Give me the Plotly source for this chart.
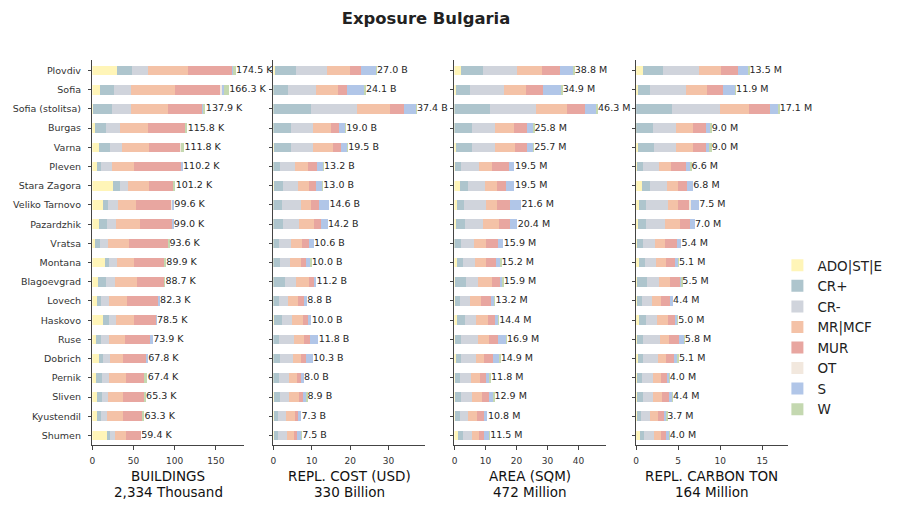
import plotly.graph_objects as go

regions = ["Plovdiv", "Sofia", "Sofia (stolitsa)", "Burgas", "Varna", "Pleven",
           "Stara Zagora", "Veliko Tarnovo", "Pazardzhik", "Vratsa", "Montana",
           "Blagoevgrad", "Lovech", "Haskovo", "Ruse", "Dobrich", "Pernik",
           "Sliven", "Kyustendil", "Shumen"]
series_names = ["ADO|ST|E", "CR+", "CR-", "MR|MCF", "MUR", "OT", "S", "W"]

# BUILDINGS (thousand)
bld_ado = [30.2, 9.7, 1.6, 4.0, 8.9, 6.5, 25.9, 13.8, 8.9, 4.0, 16.2, 7.7, 6.5, 13.8, 5.3, 8.9, 5.3, 6.5, 6.5, 18.6]
bld_crp = [18.1, 16.9, 23.1, 13.4, 13.4, 4.9, 8.5, 6.1, 9.7, 6.1, 4.9, 9.7, 4.9, 7.3, 6.1, 4.9, 7.3, 6.1, 4.9, 3.6]
bld_crm = [20.2, 20.2, 23.1, 17.0, 14.6, 13.4, 9.7, 12.1, 10.9, 9.7, 9.7, 10.9, 9.7, 8.5, 9.7, 8.5, 8.5, 7.3, 7.3, 6.1]
bld_mr = [47.6, 53.6, 44.9, 34.0, 32.8, 26.7, 25.5, 21.9, 29.1, 25.5, 20.6, 26.7, 21.9, 21.9, 19.4, 15.8, 20.6, 18.2, 19.4, 13.4]
bld_mur = [54.4, 56.0, 41.3, 45.3, 37.7, 57.1, 29.6, 42.5, 38.9, 47.4, 36.8, 33.2, 37.7, 26.7, 30.4, 27.9, 21.9, 25.5, 23.1, 17.7]
bld_ot = [0.1, 2.0, 0.0, 0.0, 1.2, 0.0, 0.0, 1.2, 0.0, 0.0, 0.0, 0.0, 0.0, 0.0, 0.0, 0.0, 0.0, 0.0, 0.0, 0.0]
bld_s = [1.6, 2.0, 2.0, 0.0, 0.0, 1.6, 0.0, 2.0, 1.5, 0.0, 0.0, 0.0, 1.6, 0.3, 3.0, 1.8, 0.0, 0.0, 0.0, 0.0]
bld_w = [2.3, 5.9, 1.9, 2.1, 3.2, 0.0, 2.0, 0.0, 0.0, 0.9, 1.7, 0.5, 0.0, 0.0, 0.0, 0.0, 3.8, 1.7, 2.1, 0.0]

# REPLACEMENT COST (billion USD)
cost_ado = [0.4, 0.1, 0.1, 0.1, 0.3, 0.1, 0.3, 0.1, 0.1, 0.1, 0.1, 0.1, 0.1, 0.3, 0.0, 0.1, 0.1, 0.2, 0.2, 0.3]
cost_crp = [5.6, 3.7, 9.9, 4.5, 4.4, 1.6, 2.4, 2.2, 2.4, 1.4, 1.6, 2.9, 1.4, 2.1, 1.6, 1.6, 1.4, 1.6, 1.1, 1.1]
cost_crm = [8.1, 7.5, 11.9, 5.7, 5.7, 3.9, 3.9, 4.9, 4.4, 3.1, 2.6, 2.9, 2.3, 2.6, 3.9, 3.4, 2.6, 2.3, 2.1, 2.3]
cost_mr = [6.0, 5.5, 8.6, 4.7, 5.2, 3.6, 2.9, 2.6, 3.9, 2.9, 2.9, 3.4, 2.6, 2.9, 2.6, 2.1, 2.1, 2.6, 2.3, 1.8]
cost_mur = [2.9, 2.6, 3.6, 2.3, 2.1, 2.3, 1.6, 2.1, 1.8, 1.8, 1.3, 1.3, 1.6, 1.3, 1.6, 1.3, 1.0, 1.0, 0.8, 0.8]
cost_ot = [0.0] * 20
cost_s = [3.9, 4.5, 3.2, 1.6, 1.6, 1.6, 1.8, 2.7, 1.6, 1.3, 1.3, 0.6, 0.8, 0.8, 2.1, 1.8, 0.8, 1.0, 0.8, 1.0]
cost_w = [0.1, 0.2, 0.1, 0.1, 0.2, 0.1, 0.1, 0.0, 0.0, 0.0, 0.2, 0.0, 0.0, 0.0, 0.0, 0.0, 0.0, 0.2, 0.0, 0.2]

# AREA (million sqm)
area_ado = [2.4, 0.7, 0.1, 0.1, 0.7, 0.2, 2.0, 1.0, 0.7, 0.1, 1.1, 0.3, 0.3, 1.0, 0.3, 0.7, 0.3, 0.4, 0.4, 1.4]
area_crp = [6.8, 4.5, 11.6, 5.8, 5.2, 2.2, 2.6, 2.3, 2.9, 2.0, 1.9, 3.5, 1.6, 2.6, 2.0, 1.6, 1.6, 1.9, 1.6, 1.6]
area_crm = [11.0, 11.0, 14.8, 7.4, 7.4, 5.5, 5.5, 7.1, 5.8, 4.2, 3.7, 3.9, 3.2, 3.5, 5.5, 4.9, 3.5, 3.5, 2.6, 2.9]
area_mr = [8.1, 7.1, 10.0, 6.1, 6.4, 4.5, 3.9, 3.5, 5.2, 3.9, 3.5, 4.5, 3.5, 3.9, 3.5, 2.6, 2.9, 3.2, 2.9, 2.3]
area_mur = [5.8, 5.5, 5.8, 4.2, 3.9, 5.2, 2.9, 4.2, 3.5, 3.9, 3.2, 2.9, 3.2, 2.3, 2.9, 2.9, 1.9, 2.3, 2.3, 1.6]
area_ot = [0.0] * 20
area_s = [4.5, 5.8, 3.8, 1.9, 1.9, 1.9, 2.6, 3.5, 2.3, 1.8, 1.6, 0.6, 1.3, 1.0, 2.6, 1.9, 1.3, 1.3, 1.0, 1.6]
area_w = [0.2, 0.3, 0.2, 0.3, 0.2, 0.0, 0.0, 0.0, 0.0, 0.0, 0.2, 0.2, 0.1, 0.1, 0.1, 0.3, 0.3, 0.3, 0.0, 0.1]

# REPLACEMENT CARBON (million ton)
carb_ado = [0.8, 0.2, 0.0, 0.05, 0.2, 0.1, 0.7, 0.35, 0.2, 0.1, 0.35, 0.1, 0.1, 0.35, 0.1, 0.25, 0.1, 0.1, 0.1, 0.45]
carb_crp = [2.4, 1.5, 4.3, 2.0, 1.9, 0.7, 1.0, 0.85, 1.0, 0.7, 0.7, 1.2, 0.6, 0.85, 0.75, 0.6, 0.6, 0.7, 0.5, 0.5]
carb_crm = [4.3, 4.3, 5.7, 2.75, 2.7, 1.9, 2.0, 2.6, 2.3, 1.5, 1.3, 1.4, 1.2, 1.3, 2.0, 1.8, 1.3, 1.2, 1.05, 1.2]
carb_mr = [2.6, 2.4, 3.5, 2.0, 2.0, 1.5, 1.3, 1.2, 1.7, 1.2, 1.2, 1.4, 1.1, 1.3, 1.1, 0.95, 0.95, 1.1, 0.95, 0.85]
carb_mur = [2.1, 2.0, 2.5, 1.5, 1.5, 1.8, 1.1, 1.4, 1.2, 1.4, 1.1, 1.1, 1.05, 0.85, 1.2, 0.95, 0.7, 0.85, 0.7, 0.6]
carb_ot = [0.0, 0.0, 0.0, 0.0, 0.0, 0.0, 0.0, 0.1, 0.0, 0.0, 0.0, 0.0, 0.0, 0.0, 0.0, 0.0, 0.0, 0.0, 0.0, 0.0]
carb_s = [1.2, 1.4, 1.0, 0.6, 0.5, 0.5, 0.7, 1.0, 0.6, 0.5, 0.4, 0.25, 0.35, 0.3, 0.6, 0.45, 0.3, 0.35, 0.3, 0.35]
carb_w = [0.1, 0.1, 0.1, 0.1, 0.2, 0.1, 0.0, 0.0, 0.0, 0.0, 0.05, 0.05, 0.0, 0.05, 0.05, 0.1, 0.05, 0.1, 0.1, 0.05]

panel_titles = ["BUILDINGS", "REPL. COST (USD)", "AREA (SQM)", "REPL. CARBON TON"]
panel_subtitles = ["2,334 Thousand", "330 Billion", "472 Million", "164 Million"]
panel_suffix = ["K", "B", "M", "M"]
panel_dtick = [50, 10, 10, 5]

panels = [
    [bld_ado, bld_crp, bld_crm, bld_mr, bld_mur, bld_ot, bld_s, bld_w],
    [cost_ado, cost_crp, cost_crm, cost_mr, cost_mur, cost_ot, cost_s, cost_w],
    [area_ado, area_crp, area_crm, area_mr, area_mur, area_ot, area_s, area_w],
    [carb_ado, carb_crp, carb_crm, carb_mr, carb_mur, carb_ot, carb_s, carb_w],
]

colors = ["#FFF5B8", "#AEC5CD", "#D0D4DC", "#F4C2A7", "#E8A6A0", "#F2E8DE", "#B1C6E8", "#C4D8B0"]

W, H = 897, 510
x_left_px = [89.7, 271.3, 453.0, 635.3]
x_width_px = 152.0
y_top_px, y_bot_px = 60.0, 445.0
FONT = "DejaVu Sans"
AXC = "#444444"

fig = go.Figure()
layout = {}
annotations = []
for p, series in enumerate(panels):
    xa = "x" if p == 0 else f"x{p+1}"
    ya = "y" if p == 0 else f"y{p+1}"
    for s, name in enumerate(series_names):
        fig.add_trace(go.Bar(
            y=regions, x=series[s], orientation="h", name=name,
            marker=dict(color=colors[s], line=dict(width=0)),
            width=0.5, xaxis=xa, yaxis=ya, legendgroup=name,
            showlegend=(p == 0),
        ))
    totals = [round(sum(v[i] for v in series), 1) for i in range(len(regions))]
    fig.add_trace(go.Scatter(
        x=totals, y=regions, mode="text",
        text=[f"{t:.1f} {panel_suffix[p]}" for t in totals],
        textposition="middle right",
        textfont=dict(size=9.5, color="#262626", family=FONT),
        showlegend=False, xaxis=xa, yaxis=ya, cliponaxis=False, hoverinfo="skip",
    ))
    xmax = max(totals) * 1.055
    xkey = "xaxis" if p == 0 else f"xaxis{p+1}"
    ykey = "yaxis" if p == 0 else f"yaxis{p+1}"
    x0 = x_left_px[p] / W
    x1 = (x_left_px[p] + x_width_px) / W
    layout[xkey] = dict(
        domain=[x0, x1],
        anchor=ya, range=[0, xmax], dtick=panel_dtick[p], tick0=0,
        showline=True, linecolor=AXC, linewidth=1, mirror=False,
        ticks="outside", ticklen=3.5, tickcolor=AXC, tickwidth=1,
        tickfont=dict(size=9, color="#333333", family=FONT),
        ticklabelstandoff=4,
        showgrid=False, zeroline=False,
    )
    layout[ykey] = dict(
        domain=[1 - y_bot_px / H, 1 - y_top_px / H],
        anchor=xa, type="category", categoryorder="array", categoryarray=regions,
        range=[19.5, -0.55], showline=True, linecolor=AXC, linewidth=1,
        ticks="outside", ticklen=3.5, tickcolor=AXC, tickwidth=1,
        showticklabels=(p == 0), ticklabelstandoff=5,
        tickfont=dict(size=9.5, color="#333333", family=FONT),
        showgrid=False, zeroline=False,
    )
    xc = (x0 + x1) / 2
    annotations.append(dict(text=panel_titles[p], x=xc, y=1 - 476 / H, xref="paper", yref="paper",
                            xanchor="center", yanchor="middle", showarrow=False,
                            font=dict(size=13.5, color="#111111", family=FONT)))
    annotations.append(dict(text=panel_subtitles[p], x=xc, y=1 - 491.5 / H, xref="paper", yref="paper",
                            xanchor="center", yanchor="middle", showarrow=False,
                            font=dict(size=13.5, color="#111111", family=FONT)))

fig.update_layout(
    width=W, height=H, margin=dict(l=0, r=0, t=0, b=0),
    paper_bgcolor="white", plot_bgcolor="white",
    barmode="stack", bargap=0,
    font=dict(family=FONT, color="#222222"),
    title=dict(text="<b>Exposure Bulgaria</b>", x=426 / W, y=1 - 18 / H,
               xanchor="center", yanchor="middle",
               font=dict(size=16.4, family=FONT, color="#222222")),
    legend=dict(x=777 / W, y=1 - 250 / H, xanchor="left", yanchor="top",
                font=dict(size=13.5, family=FONT, color="#222222"),
                bgcolor="rgba(0,0,0,0)", tracegroupgap=0, itemwidth=30),
    showlegend=True,
    annotations=annotations,
    **layout,
)

fig.write_html("out.html")
